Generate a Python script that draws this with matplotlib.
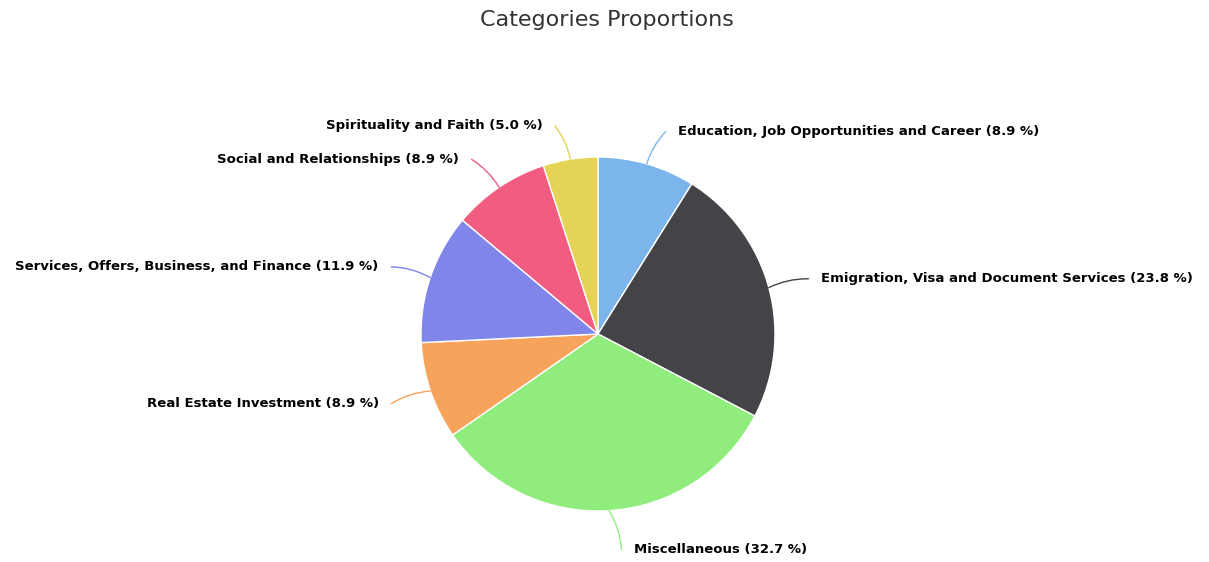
import numpy as np
import matplotlib.pyplot as plt

categories = ['Education, Job Opportunities and Career',
              'Emigration, Visa and Document Services',
              'Miscellaneous',
              'Real Estate Investment',
              'Services, Offers, Business, and Finance',
              'Social and Relationships',
              'Spirituality and Faith']
shares = [8.9, 23.8, 32.7, 8.9, 11.9, 8.9, 5.0]
colors = ['#7cb5ec', '#434348', '#90ed7d', '#f7a35c', '#8085e9', '#f15c80', '#e4d354']

W, H = 1209, 562
cx, cy, R = 598, 334, 177

fig = plt.figure(figsize=(W / 100, H / 100), dpi=100)
ax = fig.add_axes([0, 0, 1, 1])

wedges, _ = ax.pie(shares, colors=colors, startangle=90, counterclock=False,
                   radius=1, center=(0, 0), frame=True,
                   wedgeprops=dict(edgecolor='white', linewidth=1))
ax.set_xlim(-cx / R, (W - cx) / R)
ax.set_ylim(-(H - cy) / R, cy / R)
ax.axis('off')

for w, name, val, col in zip(wedges, categories, shares, colors):
    mid = np.deg2rad((w.theta1 + w.theta2) / 2)
    c, s = np.cos(mid), np.sin(mid)
    right = c >= 0
    sign = 1 if right else -1
    # labels below the pie sit a little lower, like the original
    ty = 1.19 * s if s > -0.3 else 1.22 * s
    tx = 1.17 * c + sign * 0.13
    ex = tx - sign * 0.07
    ax.annotate('', xy=(c, s), xytext=(ex, ty),
                arrowprops=dict(arrowstyle='-', color=col, lw=1, shrinkA=0, shrinkB=0,
                                connectionstyle='arc3,rad=%s' % (0.12 * sign)))
    ax.text(tx, ty, f'{name} ({val} %)', ha='left' if right else 'right',
            va='center', fontsize=9.5, fontweight='bold', color='black')

fig.text(607 / W, 1 - 20 / H, 'Categories Proportions', ha='center', va='center',
         fontsize=16, color='#333333')

fig.savefig('out.png', dpi=100)
